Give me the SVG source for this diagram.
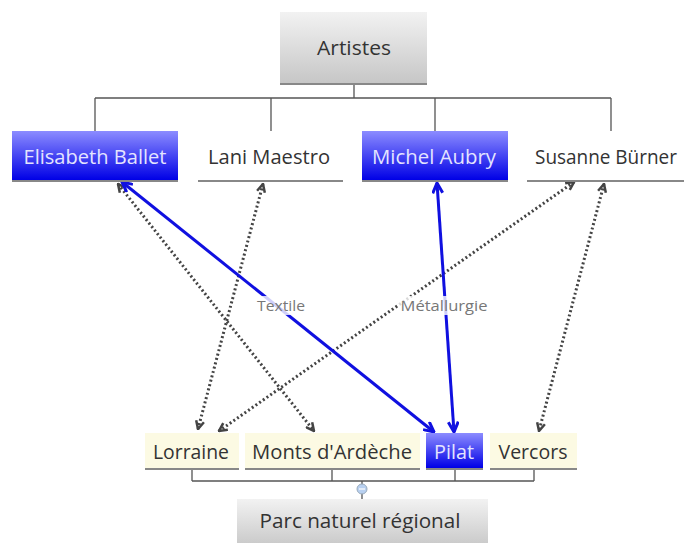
<svg xmlns="http://www.w3.org/2000/svg" width="686" height="543" viewBox="0 0 686 543">
<defs>
<linearGradient id="gGray" x1="0" y1="0" x2="0" y2="1"><stop offset="0" stop-color="#f2f2f2"/><stop offset="1" stop-color="#c6c6c6"/></linearGradient>
<linearGradient id="gBlue" x1="0" y1="0" x2="0" y2="1"><stop offset="0" stop-color="#8c8cff"/><stop offset="1" stop-color="#0000e6"/></linearGradient>
<marker id="aBlue" markerUnits="userSpaceOnUse" viewBox="0 0 12 12" refX="11" refY="6" markerWidth="12" markerHeight="12" orient="auto-start-reverse"><path d="M1,1 L11,6 L1,11" fill="none" stroke="#1010e0" stroke-width="3"/></marker>
<marker id="aDot" markerUnits="userSpaceOnUse" viewBox="0 0 10 10" refX="9" refY="5" markerWidth="10" markerHeight="10" orient="auto-start-reverse"><path d="M1,1 L9,5 L1,9" fill="none" stroke="#444" stroke-width="2.5"/></marker>
</defs>
<style>
.t{font-family:"Open Sans","Noto Sans","Liberation Sans",sans-serif;font-size:20.5px;fill:#333}
.tw{fill:#e4e4ff}
.lbl{font-family:"Open Sans","Noto Sans","Liberation Sans",sans-serif;font-size:15px;fill:#777}
.bl{stroke:#888;stroke-width:2}
.tree{fill:none;stroke:#555;stroke-width:1.3}
.blue{fill:none;stroke:#1010e0;stroke-width:3;marker-start:url(#aBlue);marker-end:url(#aBlue)}
.dot{fill:none;stroke:#444;stroke-width:3;stroke-dasharray:2 2.5;marker-start:url(#aDot);marker-end:url(#aDot)}
.cream{fill:#fcfae3}
</style>
<g id="connectors">
<path class="tree" d="M354,84 V98 M95,98 H611 M95,98 V131 M271,98 V131 M435,98 V131 M611,98 V131"/>
<path class="tree" d="M192,469 V481 M332,469 V481 M455,469 V481 M534,469 V481 M192,481 H534 M362,481 V499"/>
<circle cx="362" cy="489" r="5" fill="#b8d0f0" stroke="#9ab" stroke-width="1"/>
<line x1="359" y1="489" x2="365" y2="489" stroke="#fff" stroke-width="1.2"/>
<line class="dot" x1="118" y1="184" x2="314" y2="431"/>
<line class="dot" x1="263" y1="184" x2="198" y2="429"/>
<line class="dot" x1="574" y1="182" x2="219" y2="431"/>
<line class="dot" x1="604" y1="184" x2="539" y2="431"/>
<line class="blue" x1="122" y1="182" x2="434" y2="432"/>
<line class="blue" x1="437" y1="183" x2="454" y2="432"/>
<rect x="254" y="296" width="54" height="19" fill="#fff" opacity="0.8"/>
<text class="lbl" x="281" y="311" text-anchor="middle" textLength="48" lengthAdjust="spacingAndGlyphs">Textile</text>
<rect x="398" y="296" width="92" height="19" fill="#fff" opacity="0.8"/>
<text class="lbl" x="444" y="311" text-anchor="middle" textLength="87" lengthAdjust="spacingAndGlyphs">Métallurgie</text>
</g>
<g id="artistes">
<rect x="280" y="12" width="147" height="72" fill="url(#gGray)"/>
<line class="bl" x1="280" y1="84" x2="427" y2="84"/>
<text class="t" x="354" y="55" text-anchor="middle" font-size="21" textLength="74" lengthAdjust="spacingAndGlyphs">Artistes</text>
</g>
<g id="elisabeth">
<rect x="12" y="131" width="166" height="49" fill="url(#gBlue)"/>
<line class="bl" x1="12" y1="181" x2="178" y2="181"/>
<text class="t tw" x="95" y="164" text-anchor="middle" textLength="143" lengthAdjust="spacingAndGlyphs">Elisabeth Ballet</text>
</g>
<g id="lani">
<line class="bl" x1="198" y1="181" x2="343" y2="181"/>
<text class="t" x="269" y="164" text-anchor="middle" textLength="122" lengthAdjust="spacingAndGlyphs">Lani Maestro</text>
</g>
<g id="michel">
<rect x="362" y="131" width="146" height="49" fill="url(#gBlue)"/>
<line class="bl" x1="362" y1="181" x2="508" y2="181"/>
<text class="t tw" x="434" y="164" text-anchor="middle" textLength="124" lengthAdjust="spacingAndGlyphs">Michel Aubry</text>
</g>
<g id="susanne">
<line class="bl" x1="527" y1="181" x2="684" y2="181"/>
<text class="t" x="606" y="164" text-anchor="middle" font-size="19" textLength="142" lengthAdjust="spacingAndGlyphs">Susanne Bürner</text>
</g>
<g id="lorraine">
<rect class="cream" x="145" y="433" width="94" height="36"/>
<line class="bl" x1="145" y1="469" x2="239" y2="469"/>
<text class="t" x="191" y="459" text-anchor="middle" textLength="76" lengthAdjust="spacingAndGlyphs">Lorraine</text>
</g>
<g id="monts">
<rect class="cream" x="245" y="433" width="175" height="36"/>
<line class="bl" x1="245" y1="469" x2="420" y2="469"/>
<text class="t" x="332" y="459" text-anchor="middle" textLength="160" lengthAdjust="spacingAndGlyphs">Monts d'Ardèche</text>
</g>
<g id="pilat">
<rect x="426" y="433" width="57" height="35" fill="url(#gBlue)"/>
<line class="bl" x1="426" y1="469" x2="483" y2="469"/>
<text class="t tw" x="454" y="459" text-anchor="middle" textLength="40" lengthAdjust="spacingAndGlyphs">Pilat</text>
</g>
<g id="vercors">
<rect class="cream" x="490" y="433" width="87" height="36"/>
<line class="bl" x1="490" y1="469" x2="577" y2="469"/>
<text class="t" x="533" y="459" text-anchor="middle" textLength="69" lengthAdjust="spacingAndGlyphs">Vercors</text>
</g>
<g id="parc">
<rect x="237" y="499" width="251" height="50" fill="url(#gGray)"/>
<text class="t" x="360" y="528" text-anchor="middle" font-size="21" textLength="201" lengthAdjust="spacingAndGlyphs">Parc naturel régional</text>
</g>
</svg>
